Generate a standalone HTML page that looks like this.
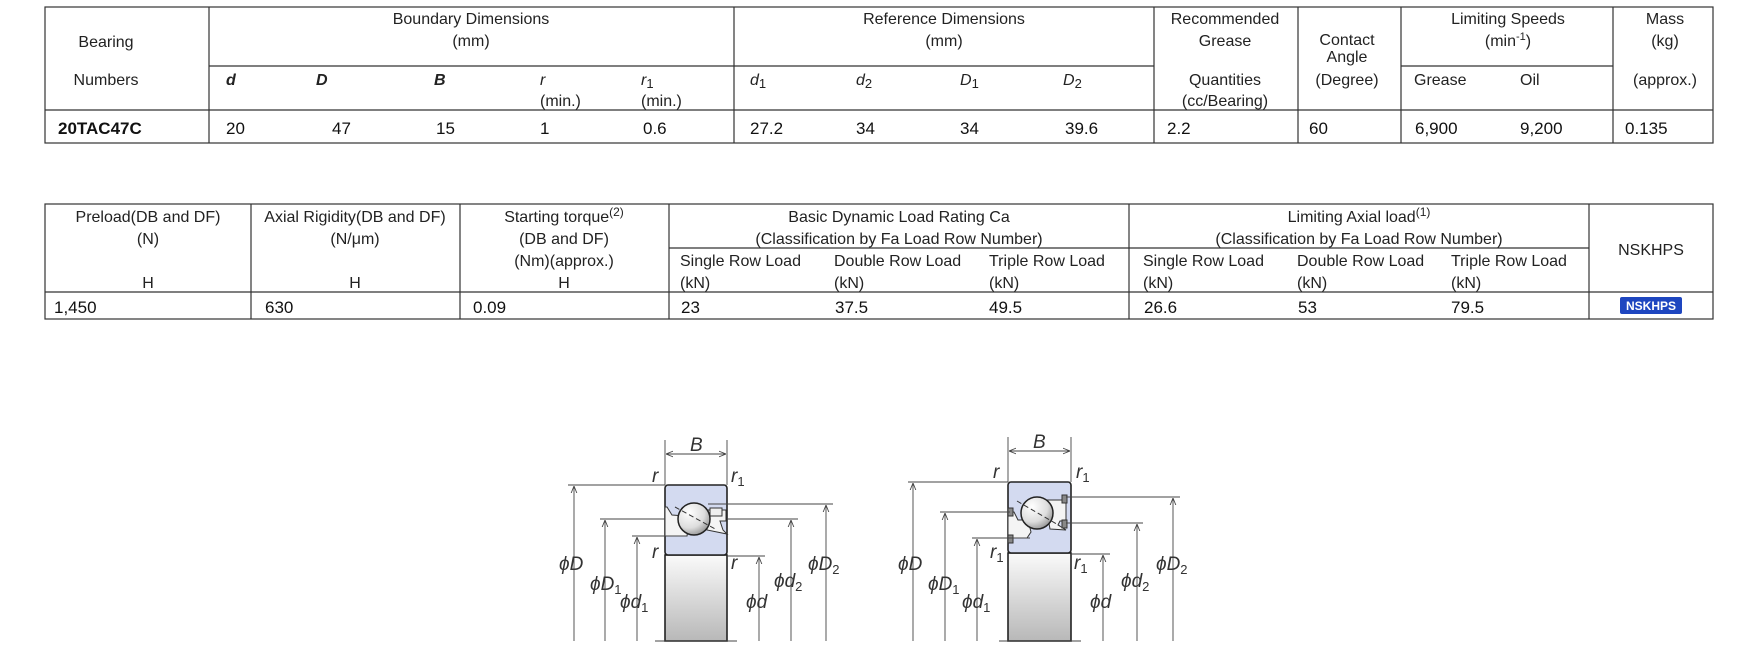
<!DOCTYPE html>
<html><head><meta charset="utf-8"><style>
html,body{margin:0;padding:0;background:#fff;}
svg{display:block;font-family:"Liberation Sans",Arial,sans-serif;}
.h{font-size:16px;fill:#222;}
.d{font-size:17px;fill:#111;}
.i{font-style:italic;}
.l{stroke:#333;stroke-width:1.2;fill:none;}
.m{stroke:#444;stroke-width:0.9;fill:none;}
.lab{font-size:19px;font-style:italic;fill:#333;}
.sub{font-size:13px;font-style:normal;}
</style></head><body>
<svg width="1754" height="662" viewBox="0 0 1754 662" xmlns="http://www.w3.org/2000/svg">
<defs>
<marker id="ar" viewBox="0 0 10 10" refX="10" refY="5" markerWidth="8" markerHeight="8" orient="auto-start-reverse"><path d="M0,1 L10,5 L0,9" fill="none" stroke="#444" stroke-width="1.2"/></marker>
<linearGradient id="gr" x1="0" y1="0" x2="0" y2="1"><stop offset="0" stop-color="#fafafa"/><stop offset="1" stop-color="#b8b8b8"/></linearGradient>
<radialGradient id="ball" cx="0.35" cy="0.3" r="0.8"><stop offset="0" stop-color="#fff"/><stop offset="0.6" stop-color="#ddd"/><stop offset="1" stop-color="#888"/></radialGradient>
</defs>

<!-- TABLE 1 -->
<g class="l">
<rect x="45" y="7" width="1668" height="136"/>
<line x1="45" y1="110" x2="1713" y2="110"/>
<line x1="209" y1="7" x2="209" y2="143"/>
<line x1="734" y1="7" x2="734" y2="143"/>
<line x1="1154" y1="7" x2="1154" y2="143"/>
<line x1="1298" y1="7" x2="1298" y2="143"/>
<line x1="1401" y1="7" x2="1401" y2="143"/>
<line x1="1613" y1="7" x2="1613" y2="143"/>
<line x1="209" y1="66" x2="1154" y2="66"/>
<line x1="1401" y1="66" x2="1613" y2="66"/>
</g>
<g class="h" text-anchor="middle">
<text x="106" y="47">Bearing</text>
<text x="106" y="85">Numbers</text>
<text x="471" y="24">Boundary Dimensions</text>
<text x="471" y="46">(mm)</text>
<text x="944" y="24">Reference Dimensions</text>
<text x="944" y="46">(mm)</text>
<text x="1225" y="24">Recommended</text>
<text x="1225" y="46">Grease</text>
<text x="1225" y="85">Quantities</text>
<text x="1225" y="106">(cc/Bearing)</text>
<text x="1347" y="45">Contact</text>
<text x="1347" y="62">Angle</text>
<text x="1347" y="85">(Degree)</text>
<text x="1508" y="24">Limiting Speeds</text>
<text x="1508" y="46">(min<tspan dy="-6" font-size="11">-1</tspan><tspan dy="6">)</tspan></text>
<text x="1665" y="24">Mass</text>
<text x="1665" y="46">(kg)</text>
<text x="1665" y="85">(approx.)</text>
</g>
<g class="h">
<text x="226" y="85" font-weight="bold" class="i">d</text>
<text x="316" y="85" font-weight="bold" class="i">D</text>
<text x="434" y="85" font-weight="bold" class="i">B</text>
<text x="540" y="85" class="i">r</text>
<text x="540" y="106">(min.)</text>
<text x="641" y="85" class="i">r<tspan class="sub" dy="3">1</tspan></text>
<text x="641" y="106">(min.)</text>
<text x="750" y="85" class="i">d<tspan class="sub" dy="3">1</tspan></text>
<text x="856" y="85" class="i">d<tspan class="sub" dy="3">2</tspan></text>
<text x="960" y="85" class="i">D<tspan class="sub" dy="3">1</tspan></text>
<text x="1063" y="85" class="i">D<tspan class="sub" dy="3">2</tspan></text>
<text x="1414" y="85">Grease</text>
<text x="1520" y="85">Oil</text>
</g>
<g class="d">
<text x="58" y="134" font-weight="bold">20TAC47C</text>
<text x="226" y="134">20</text>
<text x="332" y="134">47</text>
<text x="436" y="134">15</text>
<text x="540" y="134">1</text>
<text x="643" y="134">0.6</text>
<text x="750" y="134">27.2</text>
<text x="856" y="134">34</text>
<text x="960" y="134">34</text>
<text x="1065" y="134">39.6</text>
<text x="1167" y="134">2.2</text>
<text x="1309" y="134">60</text>
<text x="1415" y="134">6,900</text>
<text x="1520" y="134">9,200</text>
<text x="1625" y="134">0.135</text>
</g>

<!-- TABLE 2 -->
<g class="l">
<rect x="45" y="204" width="1668" height="115"/>
<line x1="45" y1="292" x2="1713" y2="292"/>
<line x1="251" y1="204" x2="251" y2="319"/>
<line x1="460" y1="204" x2="460" y2="319"/>
<line x1="669" y1="204" x2="669" y2="319"/>
<line x1="1129" y1="204" x2="1129" y2="319"/>
<line x1="1589" y1="204" x2="1589" y2="319"/>
<line x1="669" y1="248" x2="1589" y2="248"/>
</g>
<g class="h" text-anchor="middle">
<text x="148" y="222">Preload(DB and DF)</text>
<text x="148" y="244">(N)</text>
<text x="148" y="288">H</text>
<text x="355" y="222">Axial Rigidity(DB and DF)</text>
<text x="355" y="244">(N/μm)</text>
<text x="355" y="288">H</text>
<text x="564" y="222">Starting torque<tspan dy="-6" font-size="12">(2)</tspan></text>
<text x="564" y="244">(DB and DF)</text>
<text x="564" y="266">(Nm)(approx.)</text>
<text x="564" y="288">H</text>
<text x="899" y="222">Basic Dynamic Load Rating Ca</text>
<text x="899" y="244">(Classification by Fa Load  Row Number)</text>
<text x="1359" y="222">Limiting Axial load<tspan dy="-6" font-size="12">(1)</tspan></text>
<text x="1359" y="244">(Classification by Fa Load  Row Number)</text>
<text x="1651" y="255">NSKHPS</text>
</g>
<g class="h">
<text x="680" y="266">Single Row Load</text><text x="680" y="288">(kN)</text>
<text x="834" y="266">Double Row Load</text><text x="834" y="288">(kN)</text>
<text x="989" y="266">Triple Row Load</text><text x="989" y="288">(kN)</text>
<text x="1143" y="266">Single Row Load</text><text x="1143" y="288">(kN)</text>
<text x="1297" y="266">Double Row Load</text><text x="1297" y="288">(kN)</text>
<text x="1451" y="266">Triple Row Load</text><text x="1451" y="288">(kN)</text>
</g>
<g class="d">
<text x="54" y="313">1,450</text>
<text x="265" y="313">630</text>
<text x="473" y="313">0.09</text>
<text x="681" y="313">23</text>
<text x="835" y="313">37.5</text>
<text x="989" y="313">49.5</text>
<text x="1144" y="313">26.6</text>
<text x="1298" y="313">53</text>
<text x="1451" y="313">79.5</text>
</g>
<rect x="1620" y="297" width="62" height="17" rx="2" fill="#1e46c0"/>
<text x="1651" y="310" text-anchor="middle" font-size="12" font-weight="bold" fill="#fff">NSKHPS</text>

<!-- LEFT BEARING -->
<g>
<rect x="665" y="555" width="62" height="86" fill="url(#gr)" stroke="#222" stroke-width="1.6"/>
<rect x="665" y="485" width="62" height="70" rx="3" fill="#d3daf0" stroke="#222" stroke-width="1.6"/>
<path d="M665,507 L667,507 L672,515 L685,516 L688,528 L687,536 L665,536 Z" fill="#f4f4f4" stroke="#333" stroke-width="1"/>
<path d="M705,510 L726,510 L726,521 L720,521 L723,530 L727,534 L707,530 Z" fill="#f4f4f4" stroke="#333" stroke-width="1"/>
<rect x="710" y="508" width="12" height="8" fill="#eee" stroke="#333" stroke-width="1"/>
<circle cx="694" cy="519" r="16" fill="url(#ball)" stroke="#222" stroke-width="1.5"/>
<line x1="675" y1="507" x2="717" y2="530" stroke="#333" stroke-dasharray="5,3"/>
</g>
<g class="m">
<line x1="665" y1="440" x2="665" y2="485"/><line x1="727" y1="440" x2="727" y2="485"/>
<line x1="666" y1="454" x2="726" y2="454" marker-start="url(#ar)" marker-end="url(#ar)"/>
<line x1="568" y1="485" x2="665" y2="485"/>
<line x1="574" y1="641" x2="574" y2="486" marker-end="url(#ar)"/>
<line x1="600" y1="519" x2="665" y2="519"/>
<line x1="605" y1="641" x2="605" y2="520" marker-end="url(#ar)"/>
<line x1="632" y1="536" x2="687" y2="536"/>
<line x1="637" y1="641" x2="637" y2="537" marker-end="url(#ar)"/>
<line x1="727" y1="556" x2="765" y2="556"/>
<line x1="759" y1="641" x2="759" y2="557" marker-end="url(#ar)"/>
<line x1="727" y1="519" x2="798" y2="519"/>
<line x1="791" y1="641" x2="791" y2="520" marker-end="url(#ar)"/>
<line x1="708" y1="504" x2="833" y2="504"/>
<line x1="826" y1="641" x2="826" y2="505" marker-end="url(#ar)"/>
<line x1="655" y1="641" x2="737" y2="641"/>
</g>
<g class="lab">
<text x="690" y="451">B</text>
<text x="652" y="482">r</text>
<text x="731" y="482">r<tspan class="sub" dy="4">1</tspan></text>
<text x="652" y="558">r</text>
<text x="731" y="569">r</text>
<text x="559" y="570">ϕD</text>
<text x="590" y="590">ϕD<tspan class="sub" dy="4">1</tspan></text>
<text x="620" y="608">ϕd<tspan class="sub" dy="4">1</tspan></text>
<text x="746" y="608">ϕd</text>
<text x="774" y="587">ϕd<tspan class="sub" dy="4">2</tspan></text>
<text x="808" y="570">ϕD<tspan class="sub" dy="4">2</tspan></text>
</g>

<!-- RIGHT BEARING -->
<g>
<rect x="1008" y="553" width="63" height="88" fill="url(#gr)" stroke="#222" stroke-width="1.6"/>
<rect x="1008" y="482" width="63" height="71" rx="3" fill="#d3daf0" stroke="#222" stroke-width="1.6"/>
<path d="M1008,512 L1014,512 L1018,520 L1028,520 L1031,532 L1027,538 L1008,538 Z" fill="#f4f4f4" stroke="#333" stroke-width="1"/>
<path d="M1045,500 L1066,500 L1066,521 L1060,521 L1058,525 L1066,530 L1050,529 Z" fill="#f4f4f4" stroke="#333" stroke-width="1"/>
<rect x="1062" y="495" width="5" height="8" fill="#888" stroke="#333"/>
<rect x="1062" y="520" width="5" height="8" fill="#888" stroke="#333"/>
<rect x="1008" y="508" width="5" height="8" fill="#888" stroke="#333"/>
<rect x="1008" y="535" width="5" height="8" fill="#888" stroke="#333"/>
<circle cx="1037" cy="513" r="16" fill="url(#ball)" stroke="#222" stroke-width="1.5"/>
<line x1="1017" y1="501" x2="1060" y2="526" stroke="#333" stroke-dasharray="5,3"/>
</g>
<g class="m">
<line x1="1008" y1="437" x2="1008" y2="482"/><line x1="1071" y1="437" x2="1071" y2="482"/>
<line x1="1009" y1="451" x2="1070" y2="451" marker-start="url(#ar)" marker-end="url(#ar)"/>
<line x1="908" y1="482" x2="1008" y2="482"/>
<line x1="913" y1="641" x2="913" y2="483" marker-end="url(#ar)"/>
<line x1="940" y1="512" x2="1010" y2="512"/>
<line x1="945" y1="641" x2="945" y2="513" marker-end="url(#ar)"/>
<line x1="972" y1="538" x2="1030" y2="538"/>
<line x1="977" y1="641" x2="977" y2="539" marker-end="url(#ar)"/>
<line x1="1071" y1="554" x2="1110" y2="554"/>
<line x1="1103" y1="641" x2="1103" y2="555" marker-end="url(#ar)"/>
<line x1="1066" y1="523" x2="1143" y2="523"/>
<line x1="1137" y1="641" x2="1137" y2="524" marker-end="url(#ar)"/>
<line x1="1066" y1="497" x2="1180" y2="497"/>
<line x1="1173" y1="641" x2="1173" y2="498" marker-end="url(#ar)"/>
<line x1="999" y1="641" x2="1081" y2="641"/>
</g>
<g class="lab">
<text x="1033" y="448">B</text>
<text x="993" y="478">r</text>
<text x="1076" y="478">r<tspan class="sub" dy="4">1</tspan></text>
<text x="990" y="558">r<tspan class="sub" dy="4">1</tspan></text>
<text x="1074" y="569">r<tspan class="sub" dy="4">1</tspan></text>
<text x="898" y="570">ϕD</text>
<text x="928" y="590">ϕD<tspan class="sub" dy="4">1</tspan></text>
<text x="962" y="608">ϕd<tspan class="sub" dy="4">1</tspan></text>
<text x="1090" y="608">ϕd</text>
<text x="1121" y="587">ϕd<tspan class="sub" dy="4">2</tspan></text>
<text x="1156" y="570">ϕD<tspan class="sub" dy="4">2</tspan></text>
</g>
</svg>
</body></html>
